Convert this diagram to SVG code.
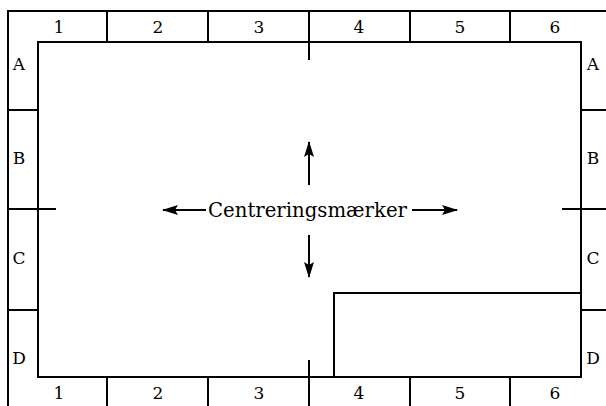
<svg xmlns="http://www.w3.org/2000/svg" width="606" height="406" viewBox="0 0 606 406">
<defs>
<style>
.ln{stroke:#000;stroke-width:2;fill:none}
.lb{font-family:"DejaVu Serif","Liberation Serif",serif;font-size:17px;fill:#000;text-anchor:middle}
.ct{font-family:"DejaVu Serif","Liberation Serif",serif;font-size:20px;fill:#000}
</style>
<marker id="ah" viewBox="0 0 16 10" refX="15" refY="5" markerWidth="16" markerHeight="10" markerUnits="userSpaceOnUse" orient="auto">
<path d="M0,0 L16,5 L0,10 L3,5 Z" fill="#000"/>
</marker>
</defs>
<rect width="606" height="406" fill="#fff"/>
<g id="frame">
<path class="ln" d="M8,406 V11 H606"/>
<rect class="ln" x="38" y="42" width="543" height="335"/>
</g>
<g id="grid">
<path class="ln" d="M107,11 V42 M208,11 V42 M309,11 V60 M410,11 V42 M510,11 V42"/>
<path class="ln" d="M107,377 V406 M208,377 V406 M309,360 V406 M410,377 V406 M510,377 V406"/>
<path class="ln" d="M8,110 H38 M8,209 H56 M8,310 H38"/>
<path class="ln" d="M581,110 H606 M562,209 H606 M581,310 H606"/>
</g>
<g id="titleblock">
<path class="ln" d="M334,377 V293 H581"/>
</g>
<g id="labels">
<text class="lb" x="59" y="33">1</text>
<text class="lb" x="158" y="33">2</text>
<text class="lb" x="259" y="33">3</text>
<text class="lb" x="359" y="33">4</text>
<text class="lb" x="460" y="33">5</text>
<text class="lb" x="555" y="33">6</text>
<text class="lb" x="59" y="399">1</text>
<text class="lb" x="158" y="399">2</text>
<text class="lb" x="259" y="399">3</text>
<text class="lb" x="359" y="399">4</text>
<text class="lb" x="460" y="399">5</text>
<text class="lb" x="555" y="399">6</text>
<text class="lb" x="19" y="70">A</text>
<text class="lb" x="19" y="164">B</text>
<text class="lb" x="19" y="264">C</text>
<text class="lb" x="19" y="364">D</text>
<text class="lb" x="593" y="70">A</text>
<text class="lb" x="593" y="164">B</text>
<text class="lb" x="593" y="264">C</text>
<text class="lb" x="593" y="364">D</text>
</g>
<g id="centering-label">
<text class="ct" x="208" y="217" textLength="199" lengthAdjust="spacingAndGlyphs">Centreringsmærker</text>
</g>
<g id="connectors">
<line class="ln" x1="309" y1="185" x2="309" y2="142" marker-end="url(#ah)"/>
<line class="ln" x1="309" y1="235" x2="309" y2="277" marker-end="url(#ah)"/>
<line class="ln" x1="206" y1="210" x2="163" y2="210" marker-end="url(#ah)"/>
<line class="ln" x1="412" y1="210" x2="457" y2="210" marker-end="url(#ah)"/>
</g>
</svg>
